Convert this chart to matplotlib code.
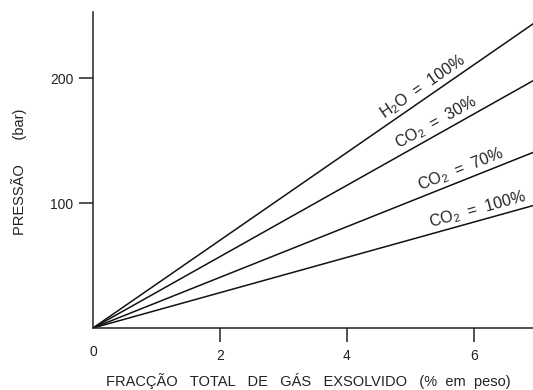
import numpy as np
import matplotlib
matplotlib.use("Agg")
import matplotlib.pyplot as plt

plt.rcParams['font.family'] = ['Liberation Sans', 'DejaVu Sans']
plt.rcParams['mathtext.fontset'] = 'custom'
plt.rcParams['mathtext.rm'] = 'Liberation Sans'
plt.rcParams['mathtext.it'] = 'Liberation Sans'

# pressure (bar) reached at 7 wt% exsolved gas, per gas composition
gas_labels = [r"H$_2$O  =  100%", r"CO$_2$  =  30%", r"CO$_2$  =  70%", r"CO$_2$  =  100%"]
x_end = [0.0, 7.0]
p_end = [246.0, 200.0, 142.0, 99.0]
label_x = [5.28, 5.48, 5.85, 6.1]

x_ticks = [2, 4, 6]
y_ticks = [100, 200]

txt = '#222222'
fig = plt.figure(figsize=(5.33, 3.9), dpi=100)
ax = fig.add_axes([0.1745, 0.159, 0.8255, 0.81])
ax.set_xlim(0, 6.93)
ax.set_ylim(0, 253)

for p in p_end:
    ax.plot(x_end, [0, p], color='#111111', lw=1.1, clip_on=True)

fig.canvas.draw()
for lab, p, lx in zip(gas_labels, p_end, label_x):
    slope = p / 7.0
    y = slope * lx
    p1 = ax.transData.transform((0, 0))
    p2 = ax.transData.transform((7, p))
    ang = np.degrees(np.arctan2(p2[1] - p1[1], p2[0] - p1[0]))
    ax.text(lx, y + 1.5, lab, rotation=ang, rotation_mode='anchor',
            ha='center', va='bottom', fontsize=11.5, color=txt)

for s in ['top', 'right']:
    ax.spines[s].set_visible(False)
for s in ['left', 'bottom']:
    ax.spines[s].set_color('#222222')
    ax.spines[s].set_linewidth(1.1)

ax.set_xticks(x_ticks)
ax.set_yticks(y_ticks)
ax.tick_params(axis='both', direction='out', length=10, width=1.1,
               colors='#222222', labelsize=10, labelcolor=txt)
ax.tick_params(axis='x', pad=5)
ax.tick_params(axis='y', pad=4)
ax.text(0, -14, "0", ha='center', va='top', fontsize=10, color=txt)

fig.text(0.578, 0.022, "FRACÇÃO   TOTAL   DE   GÁS   EXSOLVIDO   (%  em  peso)",
         ha='center', va='center', fontsize=10.5, color=txt)
fig.text(0.036, 0.559, "PRESSÃO      (bar)", rotation=90,
         ha='center', va='center', fontsize=10.5, color=txt)

fig.savefig("out.png", dpi=100)
